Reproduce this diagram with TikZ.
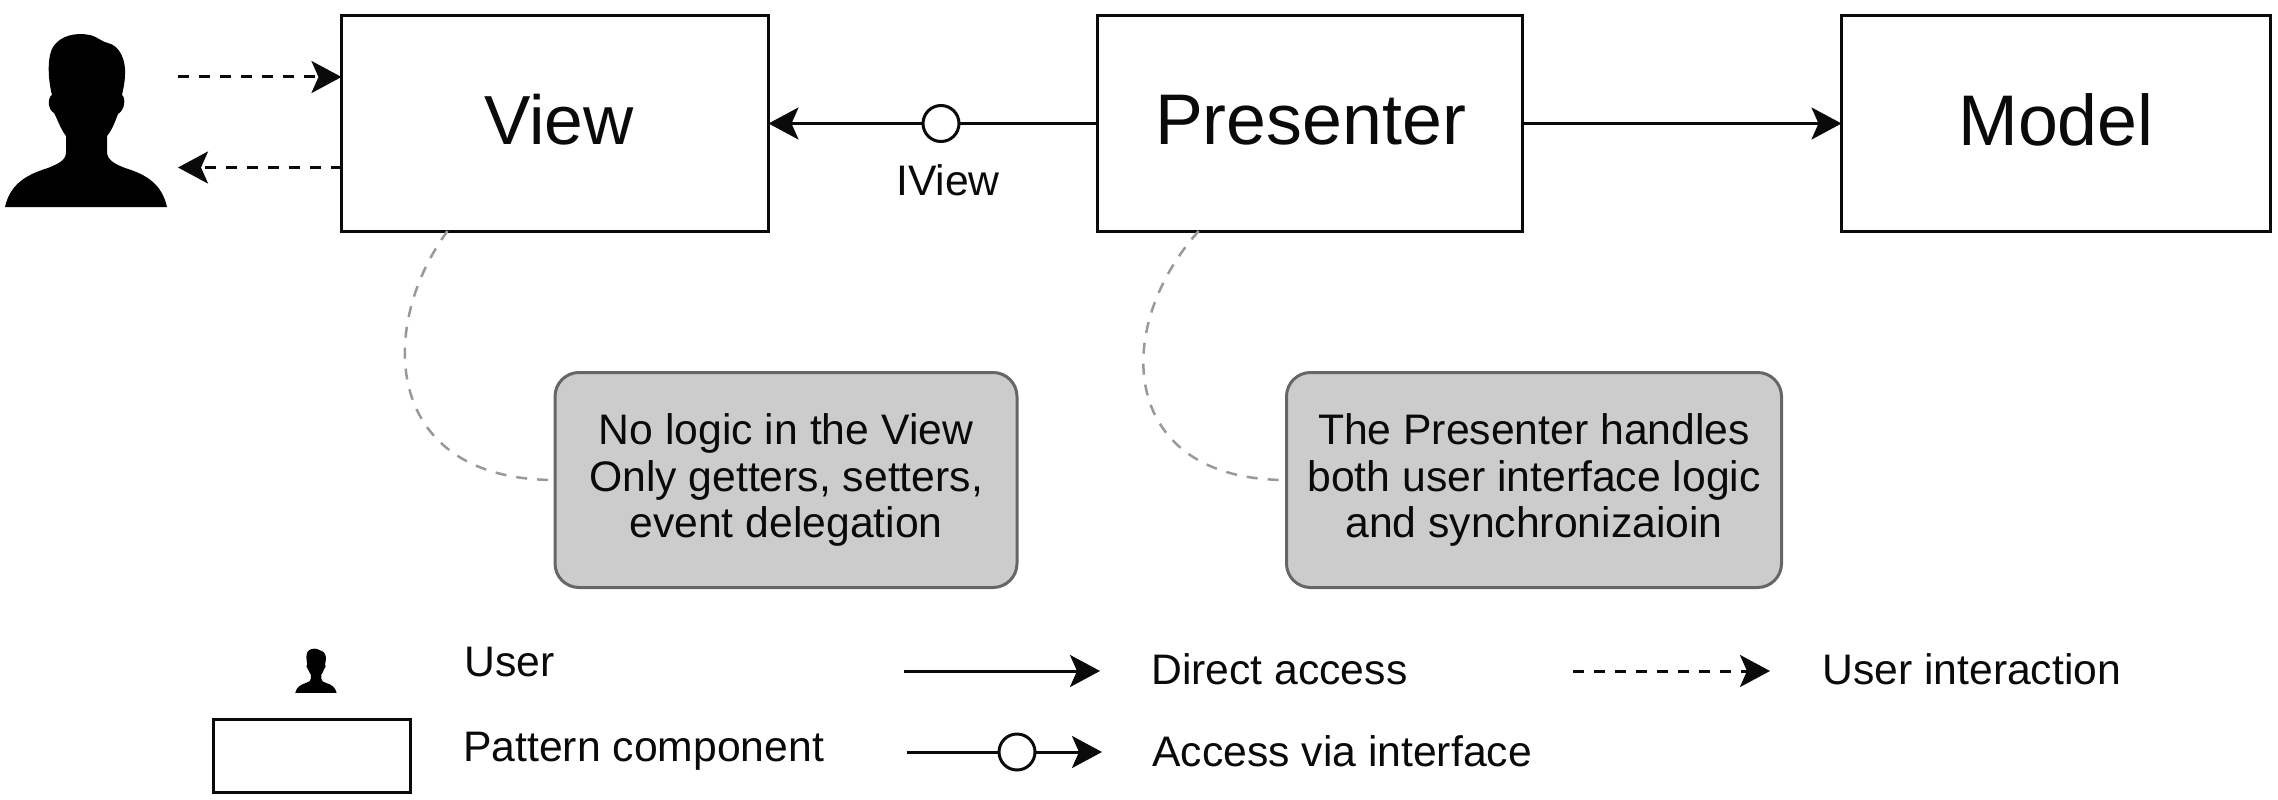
\documentclass[tikz,border=0pt]{standalone}
\usepackage{fontspec}
\setmainfont{Liberation Sans}
\usetikzlibrary{arrows.meta}
\definecolor{inkc}{HTML}{0A0A0A}
\definecolor{notefill}{HTML}{CCCCCC}
\definecolor{noteline}{HTML}{666666}
\definecolor{curvec}{HTML}{999999}
\newcommand{\personshape}{%
  \fill[black] (5,207) .. controls (10,185) and (25,175) .. (48,168)
    .. controls (60,163) and (66,160) .. (66,152)
    -- (66,136) .. controls (60,128) and (57,118) .. (54,113)
    .. controls (48,110) and (47,98) .. (52,95)
    .. controls (47,75) and (48,55) .. (53,47)
    .. controls (60,36) and (75,32) .. (90,35)
    .. controls (98,37) and (102,42) .. (108,43)
    .. controls (120,46) and (126,60) .. (125,75)
    .. controls (125,82) and (123,90) .. (122,95)
    .. controls (126,98) and (125,110) .. (118,114)
    .. controls (115,122) and (112,130) .. (107,136)
    -- (107,152) .. controls (107,160) and (115,164) .. (125,168)
    .. controls (148,175) and (162,185) .. (167,207) -- cycle;}
\tikzset{
  x=1pt,y=-1pt,
  comp/.style={draw=inkc,line width=3pt,fill=white,minimum width=427pt,minimum height=215pt,inner sep=0pt,outer sep=0pt},
  bigt/.style={inner sep=0pt,text=inkc,font=\fontsize{71.7}{80}\selectfont},
  notebox/.style={draw=noteline,line width=3pt,fill=notefill,rounded corners=24pt,minimum height=215pt,inner sep=0pt,outer sep=0pt,align=center,text=inkc,font=\fontsize{42.7}{46.5}\selectfont},
  lbl/.style={inner sep=0pt,text=inkc,font=\fontsize{42.7}{50}\selectfont},
  legl/.style={lbl,anchor=west},
  solidarrow/.style={draw=inkc,line width=3pt,-{Stealth[length=30pt,width=32pt,inset=7pt]}},
  dasharrow/.style={solidarrow,dash pattern=on 11pt off 10pt},
  curvelink/.style={draw=curvec,line width=2.5pt,dash pattern=on 11pt off 10pt},
  lollipop/.style={circle,draw=inkc,line width=3pt,fill=white,minimum size=36pt,inner sep=0pt,outer sep=0pt},
}
\begin{document}
\begin{tikzpicture}
\useasboundingbox (0,0) rectangle (2278,800);
\personshape
\begin{scope}[shift={(294pt,-640pt)},x=.255pt,y=-.255pt]
\personshape
\end{scope}
\node[comp] (view) at (555,123.5) {};
\node[comp,minimum width=425pt] (presenter) at (1310,123.5) {};
\node[comp,minimum width=429pt] (model) at (2056,123.5) {};
\node[bigt,font=\fontsize{69.5}{80}\selectfont] (viewt) at (559,120) {View};
\node[bigt] (prest) at (1310.5,120) {Presenter};
\node[bigt] (modt) at (2056,120) {Model};
\node[lollipop] (ic) at (941,123.5) {};
\node[lbl] (ivl) at (948,180) {IView};
\node[notebox,minimum width=462pt] (note1) at (786,480) {No logic in the View\\Only getters, setters,\\event delegation};
\node[notebox,minimum width=495pt] (note2) at (1534,480) {The Presenter handles\\both user interface logic\\and synchronizaioin};
\coordinate (u1) at (178,77);
\coordinate (v1) at (341.5,77);
\coordinate (v2) at (341.5,167.5);
\coordinate (u2) at (178,167.5);
\draw[dasharrow] (u1) -- (v1);
\draw[dasharrow] (v2) -- (u2);
\draw[draw=inkc,line width=3pt] (presenter.west) -- (ic);
\draw[solidarrow] (ic) -- (view.east);
\draw[solidarrow] (presenter.east) -- (model.west);
\draw[curvelink] (view.-135) .. controls (375,330) and (385,480) .. (note1.west);
\draw[curvelink] (presenter.-136) .. controls (1110,330) and (1120,480) .. (note2.west);
% legend
\node[comp,minimum width=197pt,minimum height=73pt] (lbox) at (311.5,756) {};
\node[legl] (t1) at (464,662) {User};
\node[legl] (t2) at (463,751) {Pattern component};
\coordinate (a1) at (904,671);
\coordinate (a2) at (1100,671);
\draw[solidarrow] (a1) -- (a2);
\node[legl] (t3) at (1151,669) {Direct access};
\coordinate (b1) at (1573,671);
\coordinate (b2) at (1770,671);
\draw[dasharrow] (b1) -- (b2);
\node[legl] (t4) at (1822,669) {User interaction};
\node[lollipop] (lc) at (1017,752) {};
\coordinate (c1) at (907,752);
\coordinate (c2) at (1102,752);
\draw[draw=inkc,line width=3pt] (c1) -- (lc);
\draw[solidarrow] (lc) -- (c2);
\node[legl] (t5) at (1152,751) {Access via interface};
\end{tikzpicture}
\end{document}
